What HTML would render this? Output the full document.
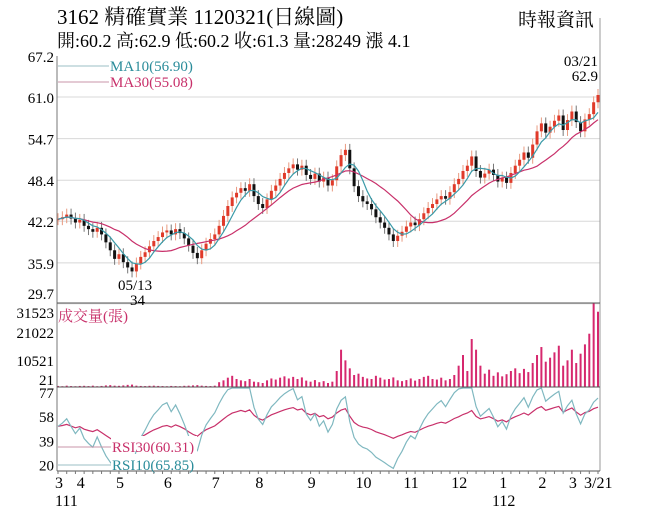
<!DOCTYPE html>
<html><head><meta charset="utf-8"><style>
body{margin:0;background:#fff;width:656px;height:525px;overflow:hidden}
svg text{font-family:"Liberation Serif","Noto Serif CJK TC",serif}
</style></head><body>
<svg id="c" width="656" height="525">
<text x="57" y="24" font-size="21">3162  精確實業 1120321(日線圖)</text>
<text x="57" y="47" font-size="18">開:60.2 高:62.9 低:60.2 收:61.3 量:28249 漲 4.1</text>
<text x="518" y="26" font-size="19">時報資訊</text>
<g id="grid"></g><g id="marks"></g><g id="axes"></g>
</svg>
<script>
const closes=[42.5,42.8,43.2,42.6,42.0,42.4,41.5,41.0,40.6,41.2,40.2,39.0,37.8,36.5,37.2,36.0,35.2,34.6,35.8,36.8,37.5,38.4,39.2,39.8,40.5,40.8,40.2,41.0,40.4,39.6,38.5,37.4,36.6,37.8,38.8,39.5,40.2,41.5,43.0,44.5,45.8,46.5,47.2,46.8,47.8,46.0,44.8,44.2,45.5,46.8,47.6,48.6,49.5,50.2,50.8,50.0,50.6,49.2,48.6,49.4,48.2,48.8,47.6,48.4,50.5,52.2,53.0,50.2,47.5,46.0,45.2,44.8,44.0,42.8,42.0,41.2,40.2,39.2,40.0,40.6,41.4,42.0,41.6,42.5,43.4,44.2,44.8,45.5,46.0,45.6,46.6,47.8,48.6,49.8,50.6,52.0,49.8,48.8,49.4,50.0,49.2,48.2,48.8,48.0,49.5,50.6,51.5,52.6,51.8,53.8,55.8,57.0,55.6,56.5,57.4,58.2,56.0,57.5,58.8,57.2,55.8,57.6,58.4,60.2,61.3];
const volumes=[400,300,500,350,300,400,450,350,500,300,400,600,700,500,450,600,800,900,500,400,350,450,500,400,350,300,400,350,300,450,500,600,700,500,400,350,500,1800,2500,3500,4200,3000,2500,2200,3000,2000,1800,1500,2500,3200,2800,3500,4000,3200,3800,3000,3600,2400,2000,2600,1800,2200,1500,2000,6000,14000,10000,7000,4500,5000,3800,3200,3000,4200,3500,2800,3000,3600,2500,2200,2600,3200,2400,3000,3800,4200,3000,2800,3500,2500,3000,4500,8000,12000,6000,18000,14000,8000,5000,6500,4200,5500,4000,4800,6000,7000,5200,6800,5600,9000,12000,15000,9500,11000,13000,15500,8000,10000,14000,9000,12500,16000,20000,31500,28249];
const priceTicks=["67.2","61.0","54.7","48.4","42.2","35.9","29.7"];
const volTicks=["31523","21022","10521","21"];
const rsiTicks=["77","58","39","20"];
const monthLabels=["3","4","5","6","7","8","9","10","11","12","1","2","3"];
const monthIdx=[0,5,14,25,36,46,58,69,80,91,102,111,118];

const NS="http://www.w3.org/2000/svg";
const X0=58,X1=598,N=closes.length;
const xs=i=>X0+i*(X1-X0)/(N-1);
const yP=v=>56+(67.2-v)/6.25*41.3;
const yV=v=>387-v/31523*84;
const yR=v=>388+(80-Math.max(17,Math.min(80,v)))/65*83;
function el(p,t,a){const e=document.createElementNS(NS,t);for(const k in a)e.setAttribute(k,a[k]);document.getElementById(p).appendChild(e);return e;}
function txt(p,x,y,s,sz,fill,anchor){const e=el(p,'text',{x:x,y:y,'font-size':sz,fill:fill||'#000','text-anchor':anchor||'start'});e.textContent=s;return e;}

priceTicks.forEach(t=>{const y=yP(+t);
 if(+t<67){const g=el('grid','line',{x1:57,x2:600,y1:y,y2:y,stroke:'#d8d8d8'});}
 const l=txt('axes',54,+t<30?299:y+6,t,15,'#000','end');});
volTicks.forEach(t=>{const l=txt('axes',54,+t>30000?318:(+t<100?385:yV(+t)+7),t,15,'#000','end');});
rsiTicks.forEach(t=>{const l=txt('axes',54,yR(+t)+6,t,15,'#000','end');});

function ma(n){return closes.map((c,i)=>{const s=closes.slice(Math.max(0,i-n+1),i+1);return s.reduce((a,b)=>a+b,0)/s.length;});}
function rsi(n){let ag=0.4,al=0.4;return closes.map((c,i)=>{if(i>0){const d=c-closes[i-1];ag=(ag*(n-1)+Math.max(d,0))/n;al=(al*(n-1)+Math.max(-d,0))/n;}return 100*ag/(ag+al);});}
function poly(arr,yf,col,name){const p=el('marks','polyline',{points:arr.map((v,i)=>xs(i).toFixed(1)+','+yf(v).toFixed(1)).join(' '),fill:'none',stroke:col,'stroke-width':1.2});}

closes.forEach((c,i)=>{const o=i?closes[i-1]:c;const hi=Math.max(o,c)+0.9,lo=Math.min(o,c)-0.9;const up=c>=o;const col=up?'#e03a2a':'#111';const x=xs(i);
 const w=el('marks','line',{x1:x,x2:x,y1:yP(hi),y2:yP(lo),stroke:up?'#e89a80':'#777'});
 const b=el('marks','rect',{x:x-1.5,y:yP(Math.max(o,c)),width:3,height:Math.max(1,Math.abs(yP(o)-yP(c))),fill:col});});
poly(ma(15),yP,'#c8306a','ma30-line');
poly(ma(5),yP,'#3a9aa8','ma10-line');

volumes.forEach((v,i)=>{const r=el('marks','rect',{x:xs(i)-1,y:yV(v),width:2,height:387-yV(v),fill:'#d6286e'});});

poly(rsi(30),yR,'#c8306a','rsi30-line');
poly(rsi(8),yR,'#7fb8c0','rsi10-line');

[[57,56,57,471,'#777'],[600,18,600,471,'#999'],[57,303,600,303,'#555'],[57,387,600,387,'#555'],[57,471,600,471,'#555']].forEach(a=>{const l=el('axes','line',{x1:a[0],y1:a[1],x2:a[2],y2:a[3],stroke:a[4]});});
for(let i=0;i<N;i+=2){const t=el('axes','line',{x1:xs(i),x2:xs(i),y1:471,y2:474,stroke:'#777'});}
monthLabels.forEach((m,k)=>{const l=txt('axes',xs(monthIdx[k])-3,488,m,16);});
var l=txt('axes',584,488,'3/21',16);
[['111',55],['112',492]].forEach(a=>{const l=txt('axes',a[1],506,a[0],16);});

[[66,'#9bbfc6','MA10(56.90)','#2a8c9a','ma10-legend'],[82,'#c896a8','MA30(55.08)','#c8306a','ma30-legend']].forEach(a=>{el('axes','line',{x1:58,x2:109,y1:a[0],y2:a[0],stroke:a[1]});const l=txt('axes',110,a[0]+5,a[2],15,a[3]);});
[[447,'#c896a8','RSI30(60.31)','#c8306a','rsi30-legend'],[465,'#9bbfc6','RSI10(65.85)','#2a8c9a','rsi10-legend']].forEach(a=>{el('axes','line',{x1:58,x2:111,y1:a[0],y2:a[0],stroke:a[1]});el('axes','rect',{x:111,y:a[0]-11,width:86,height:15,fill:'#fff'});const l=txt('axes',112,a[0]+5,a[2],15,a[3]);});
l=txt('axes',58,321,'成交量(張)',15,'#c8306a');
l=txt('axes',118,290,'05/13',15);
l=txt('axes',130,305,'34',15);
l=txt('axes',598,66,'03/21',15,'#000','end');
l=txt('axes',598,81,'62.9',15,'#000','end');
</script>
</body></html>
